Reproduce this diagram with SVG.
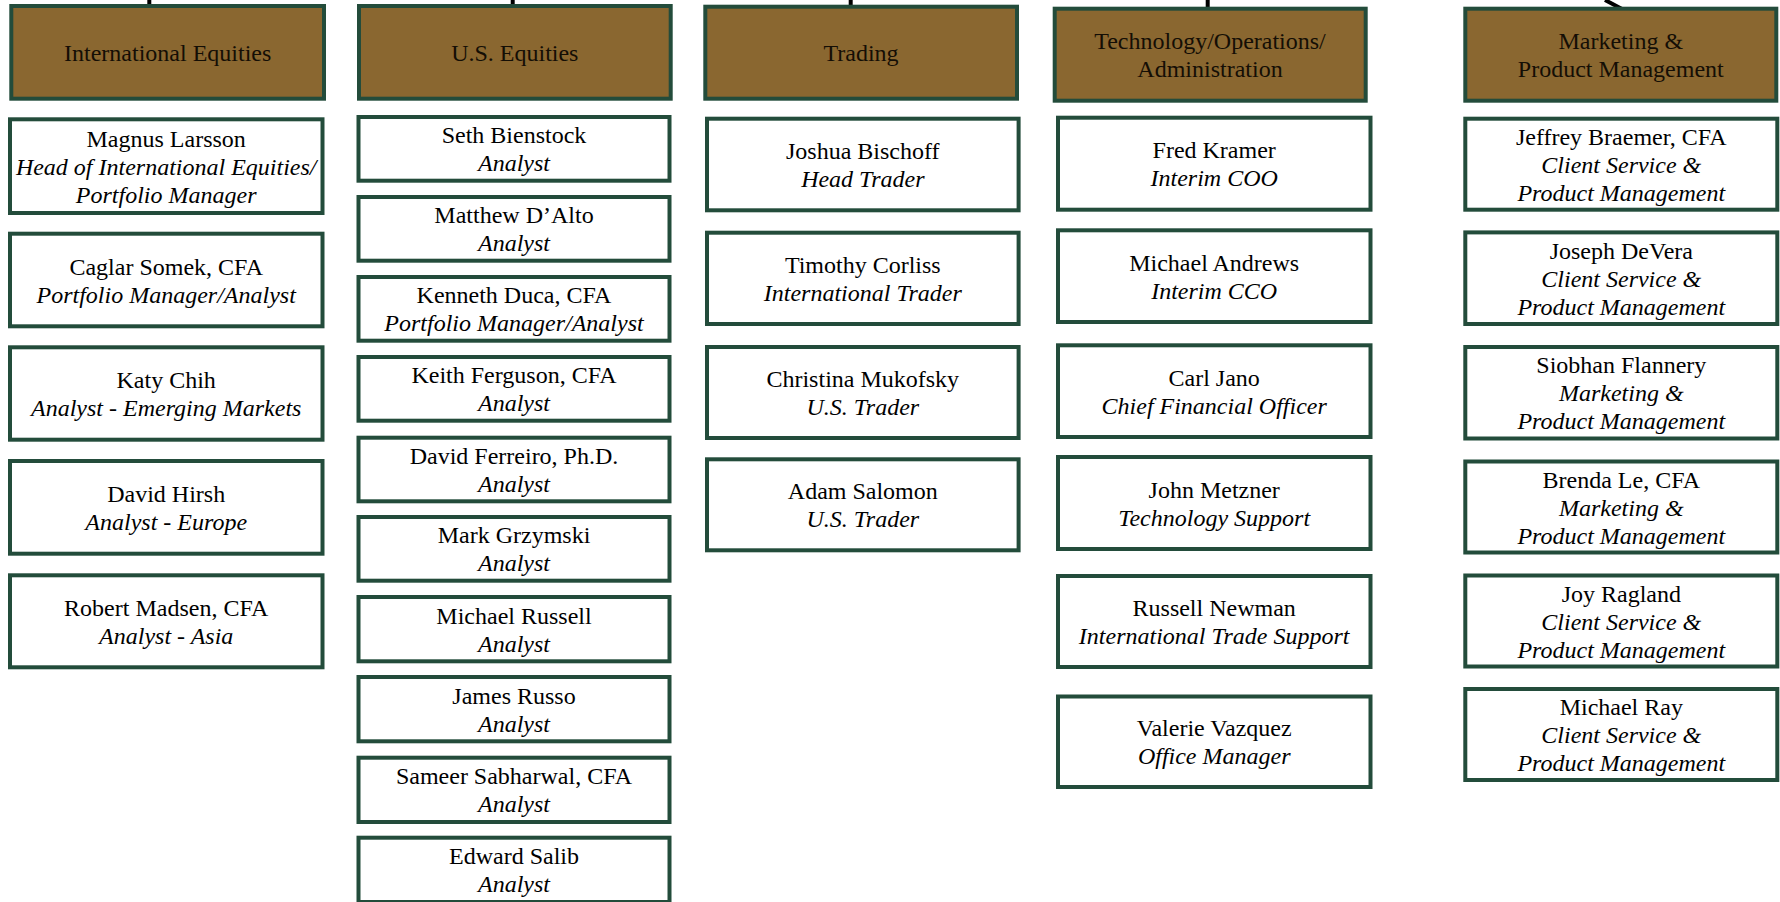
<svg xmlns="http://www.w3.org/2000/svg" width="1780" height="902" viewBox="0 0 1780 902">
<style>
.hdr{fill:#8a6730;stroke:#234c3b;stroke-width:4}
.box{fill:#fff;stroke:#234c3b;stroke-width:4}
text{font-family:"Liberation Serif","Times New Roman",serif;font-size:24px;text-anchor:middle;fill:#000}
.ht{fill:#140e05}
.r{font-style:italic}
.conn{stroke:#000;stroke-width:4;fill:none}
</style>
<rect width="1780" height="902" fill="#fff"/>
<g id="connectors">
<line class="conn" x1="149.3" y1="0" x2="149.3" y2="6"/>
<line class="conn" x1="512.7" y1="0" x2="512.7" y2="6"/>
<line class="conn" x1="850.7" y1="0" x2="850.7" y2="7"/>
<line class="conn" x1="1207.7" y1="0" x2="1207.7" y2="9"/>
<line class="conn" x1="1605" y1="0" x2="1622" y2="9"/>
</g>
<g id="h-intl"><rect class="hdr" x="11.3" y="6" width="312.7" height="92.7"/><text class="ht" x="167.7" y="61">International Equities</text></g>
<g id="h-us"><rect class="hdr" x="359" y="6" width="311.7" height="92.7"/><text class="ht" x="514.8" y="61">U.S. Equities</text></g>
<g id="h-trading"><rect class="hdr" x="705.3" y="6.7" width="311.7" height="92"/><text class="ht" x="861" y="61.2">Trading</text></g>
<g id="h-tech"><rect class="hdr" x="1054.7" y="8.7" width="311" height="92"/><text class="ht" x="1210" y="49.2">Technology/Operations/</text><text class="ht" x="1210" y="77.2">Administration</text></g>
<g id="h-mkt"><rect class="hdr" x="1465.3" y="8.7" width="311" height="92"/><text class="ht" x="1620.8" y="49.2">Marketing &amp;</text><text class="ht" x="1620.8" y="77.2">Product Management</text></g>

<g id="p-larsson"><rect class="box" x="10" y="119.3" width="312.5" height="93.7"/><text x="166.2" y="146.6">Magnus Larsson</text><text class="r" x="166.2" y="174.6">Head of International Equities/</text><text class="r" x="166.2" y="202.6">Portfolio Manager</text></g>
<g id="p-somek"><rect class="box" x="10" y="233.7" width="312.5" height="92.6"/><text x="166.2" y="274.5">Caglar Somek, CFA</text><text class="r" x="166.2" y="302.5">Portfolio Manager/Analyst</text></g>
<g id="p-chih"><rect class="box" x="10" y="347.3" width="312.5" height="92.4"/><text x="166.2" y="388">Katy Chih</text><text class="r" x="166.2" y="416">Analyst - Emerging Markets</text></g>
<g id="p-hirsh"><rect class="box" x="10" y="461" width="312.5" height="92.7"/><text x="166.2" y="501.8">David Hirsh</text><text class="r" x="166.2" y="529.8">Analyst - Europe</text></g>
<g id="p-madsen"><rect class="box" x="10" y="575.3" width="312.5" height="92"/><text x="166.2" y="615.8">Robert Madsen, CFA</text><text class="r" x="166.2" y="643.8">Analyst - Asia</text></g>

<g id="p-bienstock"><rect class="box" x="358.5" y="117" width="311" height="63.7"/><text x="514" y="143.3">Seth Bienstock</text><text class="r" x="514" y="171.3">Analyst</text></g>
<g id="p-dalto"><rect class="box" x="358.5" y="197" width="311" height="63.7"/><text x="514" y="223.3">Matthew D’Alto</text><text class="r" x="514" y="251.3">Analyst</text></g>
<g id="p-duca"><rect class="box" x="358.5" y="277" width="311" height="63.7"/><text x="514" y="303.3">Kenneth Duca, CFA</text><text class="r" x="514" y="331.3">Portfolio Manager/Analyst</text></g>
<g id="p-ferguson"><rect class="box" x="358.5" y="357" width="311" height="63.7"/><text x="514" y="383.3">Keith Ferguson, CFA</text><text class="r" x="514" y="411.3">Analyst</text></g>
<g id="p-ferreiro"><rect class="box" x="358.5" y="437.7" width="311" height="63.6"/><text x="514" y="464">David Ferreiro, Ph.D.</text><text class="r" x="514" y="492">Analyst</text></g>
<g id="p-grzymski"><rect class="box" x="358.5" y="517" width="311" height="63.7"/><text x="514" y="543.3">Mark Grzymski</text><text class="r" x="514" y="571.3">Analyst</text></g>
<g id="p-russell"><rect class="box" x="358.5" y="597" width="311" height="64.3"/><text x="514" y="623.6">Michael Russell</text><text class="r" x="514" y="651.6">Analyst</text></g>
<g id="p-russo"><rect class="box" x="358.5" y="677" width="311" height="64.3"/><text x="514" y="703.6">James Russo</text><text class="r" x="514" y="731.6">Analyst</text></g>
<g id="p-sabharwal"><rect class="box" x="358.5" y="757.7" width="311" height="64.3"/><text x="514" y="784.3">Sameer Sabharwal, CFA</text><text class="r" x="514" y="812.3">Analyst</text></g>
<g id="p-salib"><rect class="box" x="358.5" y="837.7" width="311" height="64.3"/><text x="514" y="863.5">Edward Salib</text><text class="r" x="514" y="891.5">Analyst</text></g>

<g id="p-bischoff"><rect class="box" x="707" y="118.7" width="311.6" height="91.6"/><text x="862.8" y="159">Joshua Bischoff</text><text class="r" x="862.8" y="187">Head Trader</text></g>
<g id="p-corliss"><rect class="box" x="707" y="232.7" width="311.6" height="91.3"/><text x="862.8" y="272.8">Timothy Corliss</text><text class="r" x="862.8" y="300.8">International Trader</text></g>
<g id="p-mukofsky"><rect class="box" x="707" y="347" width="311.6" height="91"/><text x="862.8" y="387">Christina Mukofsky</text><text class="r" x="862.8" y="415">U.S. Trader</text></g>
<g id="p-salomon"><rect class="box" x="707" y="459.3" width="311.6" height="91"/><text x="862.8" y="499.3">Adam Salomon</text><text class="r" x="862.8" y="527.3">U.S. Trader</text></g>

<g id="p-kramer"><rect class="box" x="1058" y="117.7" width="312.5" height="92"/><text x="1214.2" y="158.2">Fred Kramer</text><text class="r" x="1214.2" y="186.2">Interim COO</text></g>
<g id="p-andrews"><rect class="box" x="1058" y="230.3" width="312.5" height="91.7"/><text x="1214.2" y="270.6">Michael Andrews</text><text class="r" x="1214.2" y="298.6">Interim CCO</text></g>
<g id="p-jano"><rect class="box" x="1058" y="345.3" width="312.5" height="91.7"/><text x="1214.2" y="385.6">Carl Jano</text><text class="r" x="1214.2" y="413.6">Chief Financial Officer</text></g>
<g id="p-metzner"><rect class="box" x="1058" y="457" width="312.5" height="92"/><text x="1214.2" y="497.5">John Metzner</text><text class="r" x="1214.2" y="525.5">Technology Support</text></g>
<g id="p-newman"><rect class="box" x="1058" y="576" width="312.5" height="91"/><text x="1214.2" y="616">Russell Newman</text><text class="r" x="1214.2" y="644">International Trade Support</text></g>
<g id="p-vazquez"><rect class="box" x="1058" y="696.5" width="312.5" height="90.5"/><text x="1214.2" y="736.2">Valerie Vazquez</text><text class="r" x="1214.2" y="764.2">Office Manager</text></g>

<g id="p-braemer"><rect class="box" x="1465.3" y="118.7" width="312" height="91"/><text x="1621.3" y="144.7">Jeffrey Braemer, CFA</text><text class="r" x="1621.3" y="172.7">Client Service &amp;</text><text class="r" x="1621.3" y="200.7">Product Management</text></g>
<g id="p-devera"><rect class="box" x="1465.3" y="232.4" width="312" height="91.6"/><text x="1621.3" y="258.7">Joseph DeVera</text><text class="r" x="1621.3" y="286.7">Client Service &amp;</text><text class="r" x="1621.3" y="314.7">Product Management</text></g>
<g id="p-flannery"><rect class="box" x="1465.3" y="347" width="312" height="91.5"/><text x="1621.3" y="373.2">Siobhan Flannery</text><text class="r" x="1621.3" y="401.2">Marketing &amp;</text><text class="r" x="1621.3" y="429.2">Product Management</text></g>
<g id="p-le"><rect class="box" x="1465.3" y="461.5" width="312" height="91"/><text x="1621.3" y="487.5">Brenda Le, CFA</text><text class="r" x="1621.3" y="515.5">Marketing &amp;</text><text class="r" x="1621.3" y="543.5">Product Management</text></g>
<g id="p-ragland"><rect class="box" x="1465.3" y="575.5" width="312" height="91"/><text x="1621.3" y="601.5">Joy Ragland</text><text class="r" x="1621.3" y="629.5">Client Service &amp;</text><text class="r" x="1621.3" y="657.5">Product Management</text></g>
<g id="p-ray"><rect class="box" x="1465.3" y="689" width="312" height="91"/><text x="1621.3" y="715">Michael Ray</text><text class="r" x="1621.3" y="743">Client Service &amp;</text><text class="r" x="1621.3" y="771">Product Management</text></g>
</svg>
